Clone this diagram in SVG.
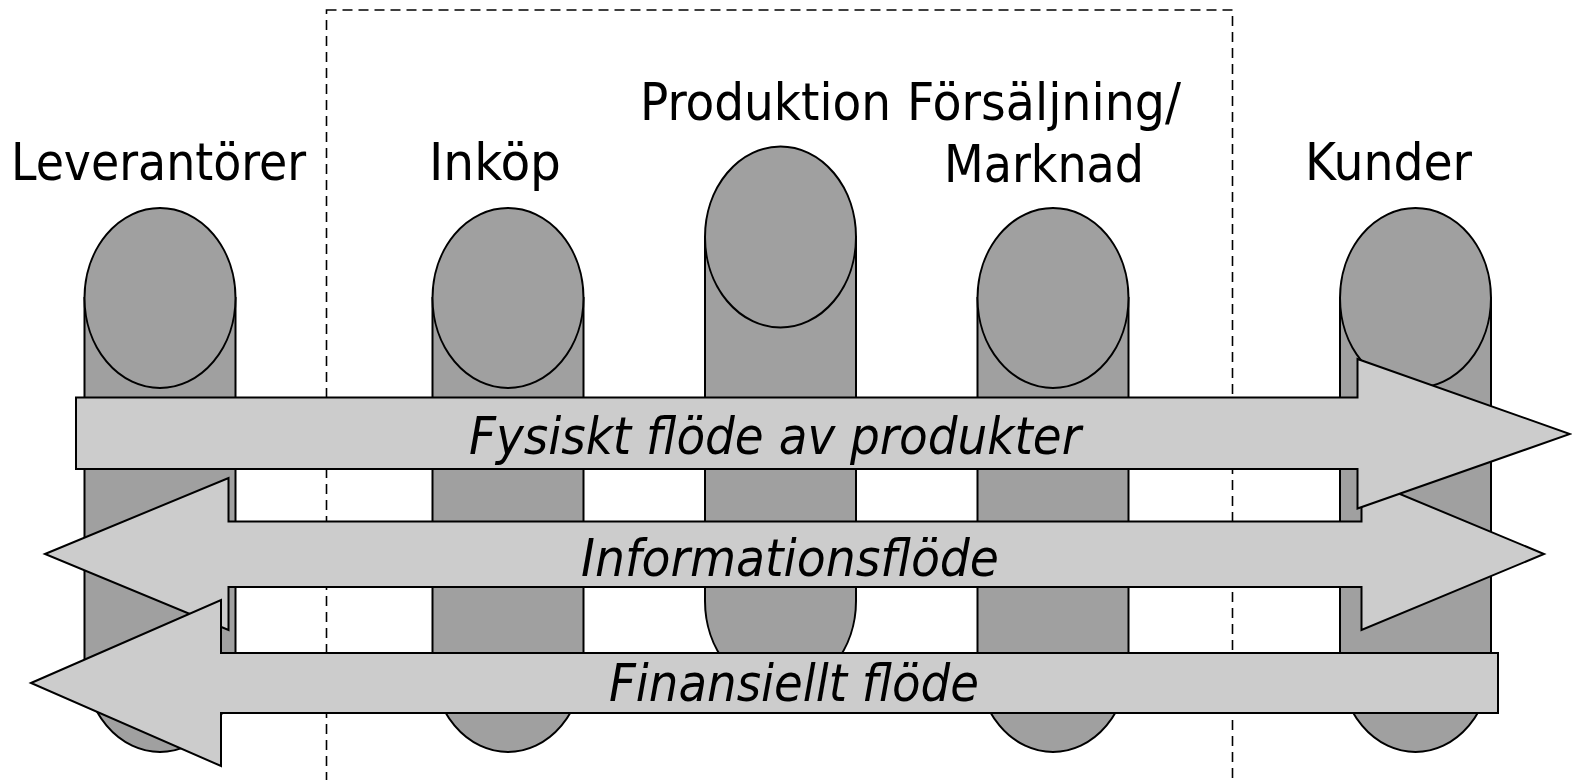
<svg xmlns="http://www.w3.org/2000/svg" width="1572" height="780" viewBox="0 0 1572 780">
<style>
.cyl{fill:#a0a0a0;stroke:#000;stroke-width:2}
.arr{fill:#cccccc;stroke:#000;stroke-width:2;stroke-linejoin:miter}
.lbl{font-family:"DejaVu Sans Condensed","DejaVu Sans",sans-serif;font-stretch:condensed;font-size:52px;fill:#000}
.it{font-style:italic}
</style>
<rect x="326.5" y="10" width="906" height="800" fill="none" stroke="#000" stroke-width="1.6" stroke-dasharray="10 6"/>
<g id="leverantorer">
<path class="cyl" d="M84.5,298 L84.5,662 A75.5,90 0 0 0 235.5,662 L235.5,298 Z"/>
<ellipse class="cyl" cx="160" cy="298" rx="75.5" ry="90"/>
<text class="lbl" x="11" y="180" textLength="295" lengthAdjust="spacingAndGlyphs">Leverantörer</text>
</g>
<g id="inkop">
<path class="cyl" d="M432.5,298 L432.5,662 A75.5,90 0 0 0 583.5,662 L583.5,298 Z"/>
<ellipse class="cyl" cx="508" cy="298" rx="75.5" ry="90"/>
<text class="lbl" x="429" y="180" textLength="132" lengthAdjust="spacingAndGlyphs">Inköp</text>
</g>
<g id="produktion">
<path class="cyl" d="M705,237 L705,601 A75.5,90 0 0 0 856,601 L856,237 Z"/>
<ellipse class="cyl" cx="780.5" cy="237" rx="75.5" ry="90.5"/>
<text class="lbl" x="640" y="120" textLength="251" lengthAdjust="spacingAndGlyphs">Produktion</text>
</g>
<g id="forsaljning">
<path class="cyl" d="M977.5,298 L977.5,662 A75.5,90 0 0 0 1128.5,662 L1128.5,298 Z"/>
<ellipse class="cyl" cx="1053" cy="298" rx="75.5" ry="90"/>
<text class="lbl" x="907" y="120" textLength="274" lengthAdjust="spacingAndGlyphs">Försäljning/</text>
<text class="lbl" x="944" y="182" textLength="200" lengthAdjust="spacingAndGlyphs">Marknad</text>
</g>
<g id="kunder">
<path class="cyl" d="M1340,298 L1340,662 A75.5,90 0 0 0 1491,662 L1491,298 Z"/>
<ellipse class="cyl" cx="1415.5" cy="298" rx="75.5" ry="90"/>
<text class="lbl" x="1305" y="180" textLength="167" lengthAdjust="spacingAndGlyphs">Kunder</text>
</g>
<g id="connectors">
<g id="informationsflode">
<polygon class="arr" points="45,554 228.5,478 228.5,521.5 1361.5,521.5 1361.5,478 1544,554 1361.5,630 1361.5,587 228.5,587 228.5,630"/>
<text class="lbl it" x="581" y="576" textLength="418" lengthAdjust="spacingAndGlyphs">Informationsflöde</text>
</g>
<g id="fysiskt">
<polygon class="arr" points="76,397.5 1357.5,397.5 1357.5,359 1570,434 1357.5,508.5 1357.5,469 76,469"/>
<text class="lbl it" x="469" y="454" textLength="612" lengthAdjust="spacingAndGlyphs">Fysiskt flöde av produkter</text>
</g>
<g id="finansiellt">
<polygon class="arr" points="31,683 221,600 221,653 1498,653 1498,713 221,713 221,766"/>
<text class="lbl it" x="609" y="701" textLength="370" lengthAdjust="spacingAndGlyphs">Finansiellt flöde</text>
</g>
</g>
</svg>
